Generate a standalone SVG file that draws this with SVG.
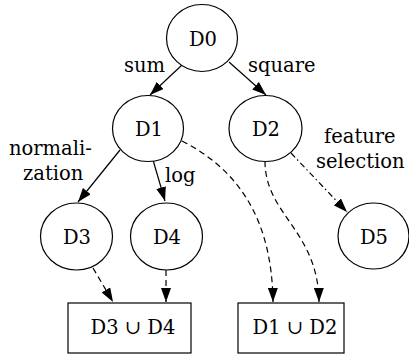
<svg xmlns="http://www.w3.org/2000/svg" width="409" height="356" viewBox="0 0 409 356">
<style>
.n{fill:#fff;stroke:#000;stroke-width:1.2}
.t{font-family:"DejaVu Serif","Liberation Serif",serif;font-size:19.5px;fill:#000}
.m{text-anchor:middle}
.e{fill:none;stroke:#000;stroke-width:1.2}
.d{stroke-dasharray:6 4}
.dd{stroke-dasharray:6 3 1.5 3}
</style>
<defs>
<marker id="ah" viewBox="0 0 14 10" refX="14" refY="5" markerWidth="14" markerHeight="10" markerUnits="userSpaceOnUse" orient="auto">
<path d="M0,0 L14,5 L0,10 z" fill="#000"/>
</marker>
</defs>
<g id="edges">
<path class="e" d="M182,65 L150,95" marker-end="url(#ah)"/>
<path class="e" d="M229,62 L266,95" marker-end="url(#ah)"/>
<path class="e" d="M120,150 L78,202" marker-end="url(#ah)"/>
<path class="e" d="M153,160 L165,201" marker-end="url(#ah)"/>
<path class="e d" d="M182,141 C235,168 272,215 273,302" marker-end="url(#ah)"/>
<path class="e d" d="M265,161 C265,215 318,230 319,302" marker-end="url(#ah)"/>
<path class="e dd" d="M291,153 L347,212" marker-end="url(#ah)"/>
<path class="e d" d="M93,268 L113,302" marker-end="url(#ah)"/>
<path class="e d" d="M166,270 L166,302" marker-end="url(#ah)"/>
<text class="t" x="124" y="72">sum</text>
<text class="t" x="248" y="72">square</text>
<text class="t" x="9" y="155">normali-</text>
<text class="t" x="23" y="180">zation</text>
<text class="t" x="165" y="182">log</text>
<text class="t" x="324" y="143">feature</text>
<text class="t" x="316" y="168">selection</text>
</g>
<g id="D0"><ellipse class="n" cx="202" cy="38" rx="35.5" ry="33.5"/><text class="t m" x="203" y="45.5">D0</text></g>
<g id="D1"><ellipse class="n" cx="148" cy="128.5" rx="35.5" ry="33"/><text class="t m" x="149" y="136">D1</text></g>
<g id="D2"><ellipse class="n" cx="265.5" cy="128.5" rx="36.5" ry="33"/><text class="t m" x="266" y="136">D2</text></g>
<g id="D3"><ellipse class="n" cx="76.5" cy="236.5" rx="36" ry="33.5"/><text class="t m" x="77" y="244">D3</text></g>
<g id="D4"><ellipse class="n" cx="166.5" cy="236.5" rx="36" ry="33.5"/><text class="t m" x="167" y="244">D4</text></g>
<g id="D5"><ellipse class="n" cx="373.5" cy="236" rx="35.5" ry="33"/><text class="t m" x="374" y="243.5">D5</text></g>
<g id="U34"><rect class="n" x="68" y="303" width="123" height="50"/><text class="t m" x="133" y="334">D3 ∪ D4</text></g>
<g id="U12"><rect class="n" x="238" y="303" width="106" height="50"/><text class="t m" x="295" y="334">D1 ∪ D2</text></g>
</svg>
